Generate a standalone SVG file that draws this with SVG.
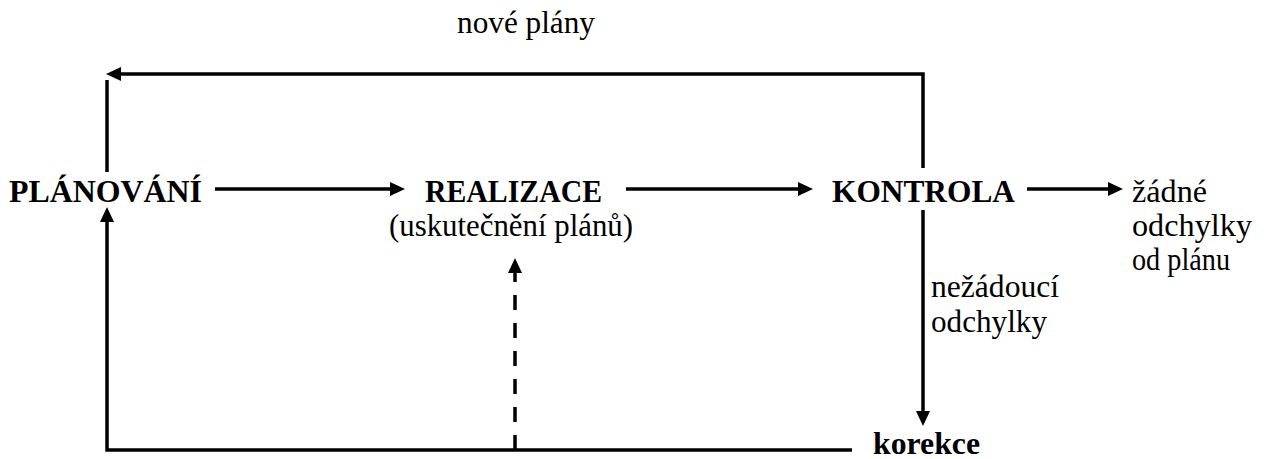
<svg xmlns="http://www.w3.org/2000/svg" width="1268" height="459" viewBox="0 0 1268 459">
  <style>
    text { font-family: "Liberation Serif", "Times New Roman", serif; font-size: 31px; fill: #000; }
    .b { font-weight: bold; }
    .ln { fill: none; stroke: #000; stroke-width: 3.5; stroke-linecap: butt; stroke-linejoin: miter; }
    .dash { stroke-dasharray: 15 13; }
  </style>
  <defs>
    <!-- filled arrowhead; the line stops a little inside the tip -->
    <marker id="arr" markerUnits="userSpaceOnUse" markerWidth="16" markerHeight="14" refX="11" refY="7" orient="auto">
      <path d="M0,0 L15,7 L0,14 z" fill="#000"/>
    </marker>
  </defs>

  <!-- process steps -->
  <g id="planovani">
    <text class="b" x="9" y="202" textLength="193" lengthAdjust="spacingAndGlyphs">PLÁNOVÁNÍ</text>
  </g>
  <g id="realizace">
    <text class="b" x="425" y="202" textLength="177" lengthAdjust="spacingAndGlyphs">REALIZACE</text>
    <text x="389" y="236" textLength="244" lengthAdjust="spacingAndGlyphs">(uskutečnění plánů)</text>
  </g>
  <g id="kontrola">
    <text class="b" x="832" y="202" textLength="183" lengthAdjust="spacingAndGlyphs">KONTROLA</text>
  </g>
  <g id="zadne-odchylky">
    <text x="1132" y="202" textLength="75" lengthAdjust="spacingAndGlyphs">žádné</text>
    <text x="1132" y="236" textLength="120" lengthAdjust="spacingAndGlyphs">odchylky</text>
    <text x="1132" y="270" textLength="98" lengthAdjust="spacingAndGlyphs">od plánu</text>
  </g>
  <g id="korekce">
    <text class="b" x="873" y="454" textLength="107" lengthAdjust="spacingAndGlyphs">korekce</text>
  </g>

  <!-- connectors -->
  <g id="connectors">
    <line class="ln" x1="215" y1="189" x2="401" y2="189" marker-end="url(#arr)"/>
    <line class="ln" x1="626" y1="189" x2="809" y2="189" marker-end="url(#arr)"/>
    <line class="ln" x1="1027" y1="189" x2="1119" y2="189" marker-end="url(#arr)"/>
    <!-- feedback: new plans -->
    <polyline class="ln" points="923,168 923,74 110,74" marker-end="url(#arr)"/>
    <line class="ln" x1="107" y1="80" x2="107" y2="172"/>
    <!-- undesired deviations -> correction -->
    <line class="ln" x1="923" y1="210" x2="923" y2="422" marker-end="url(#arr)"/>
    <!-- correction back to planning -->
    <polyline class="ln" points="852,450 107,450 107,211" marker-end="url(#arr)"/>
    <!-- correction directly into realization -->
    <line class="ln dash" x1="515" y1="450" x2="515" y2="262" marker-end="url(#arr)"/>
    <text x="457" y="33" textLength="138" lengthAdjust="spacingAndGlyphs">nové plány</text>
    <text x="931" y="297" textLength="128" lengthAdjust="spacingAndGlyphs">nežádoucí</text>
    <text x="931" y="332" textLength="116" lengthAdjust="spacingAndGlyphs">odchylky</text>
  </g>
</svg>
